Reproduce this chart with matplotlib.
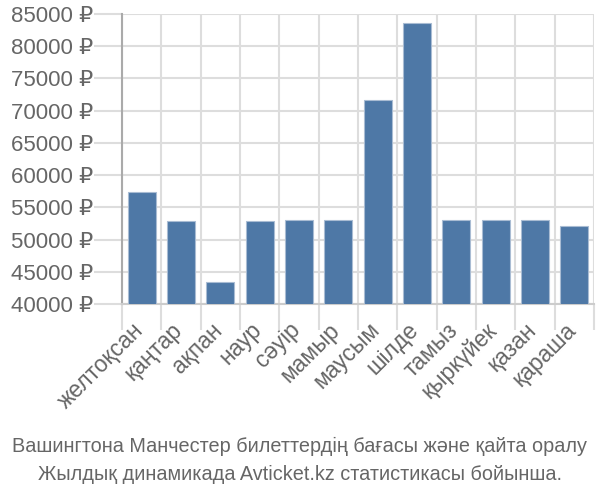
import matplotlib
matplotlib.use("Agg")
import matplotlib.pyplot as plt
import matplotlib.transforms as mtransforms
import numpy as np

# Monthly average ticket price (rubles)
months = ["желтоқсан", "қаңтар", "ақпан", "наур", "сәуір", "мамыр",
          "маусым", "шілде", "тамыз", "қыркүйек", "қазан", "қараша"]
prices = [57400, 52950, 43400, 52950, 53000, 53000,
          71650, 83600, 53000, 53100, 53000, 52050]
yticks = [40000, 45000, 50000, 55000, 60000, 65000, 70000, 75000, 80000, 85000]
caption = ["Вашингтона Манчестер билеттердің бағасы және қайта оралу",
           "Жылдық динамикада Avticket.kz статистикасы бойынша."]

plt.rcParams['font.family'] = ['Liberation Sans', 'DejaVu Sans']
text_color = '#666666'
grid_color = '#dddddd'

fig = plt.figure(figsize=(6, 5), dpi=100)
ax = fig.add_axes([122 / 600, 1 - 304 / 500, 472 / 600, 290 / 500])

x = np.arange(len(months))
ax.bar(x, prices, width=0.72, color='#4e78a6', edgecolor='#a9bcd3',
       linewidth=0.8, zorder=3)

ax.set_xlim(-0.5, len(months) - 0.5)
ax.set_ylim(40000, 85000)

# y axis
ax.set_yticks(yticks)
ax.set_yticklabels([f"{v} ₽" for v in yticks], fontsize=16, color=text_color)
ax.tick_params(axis='y', length=20, width=1.5, color=grid_color, pad=1)
ax.grid(axis='y', color=grid_color, linewidth=1.5, zorder=0)

# x axis: labels at centres, grid lines at boundaries
ax.set_xticks(x)
ax.set_xticklabels(months, rotation=45, ha='right', va='top',
                   rotation_mode='anchor', fontsize=16.5, color=text_color)
ax.tick_params(axis='x', which='major', length=0, pad=6)
shift = mtransforms.ScaledTranslation(-10 / 100, -6 / 100, fig.dpi_scale_trans)
for lbl in ax.get_xticklabels():
    lbl.set_transform(lbl.get_transform() + shift)
ax.set_xticks(np.arange(-0.5, len(months)), minor=True)
ax.tick_params(axis='x', which='minor', length=19, width=1.5, color=grid_color)
ax.grid(axis='x', which='minor', color=grid_color, linewidth=1.5, zorder=0)

for side in ['top', 'right']:
    ax.spines[side].set_visible(False)
ax.spines['left'].set_color('#aaaaaa')
ax.spines['left'].set_linewidth(1.5)
ax.spines['bottom'].set_color('#cccccc')
ax.spines['bottom'].set_linewidth(1.5)

fig.text(0.5, 1 - 446 / 500, caption[0], ha='center', va='center',
         fontsize=14.3, color=text_color)
fig.text(0.5, 1 - 475 / 500, caption[1], ha='center', va='center',
         fontsize=14.3, color=text_color)

fig.savefig('out.png', dpi=100)
